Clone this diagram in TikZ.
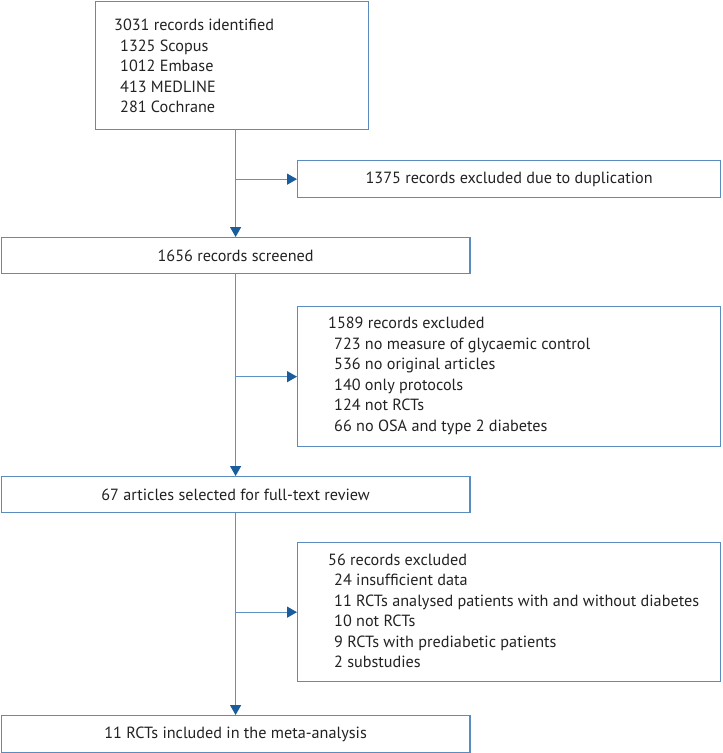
\documentclass[tikz,border=0pt]{standalone}
\usepackage{fontspec}
\setmainfont{PT Sans}
\usetikzlibrary{arrows.meta}
\definecolor{boxblue}{HTML}{5A8CC0}
\definecolor{lineblue}{HTML}{5F92C4}
\definecolor{tipblue}{HTML}{1B5C9C}
\definecolor{txtgray}{HTML}{222222}
\begin{document}
\begin{tikzpicture}[x=1pt,y=-1pt,
  box/.style={draw=boxblue, line width=1.3pt, anchor=north west, inner sep=0pt},
  txt/.style={font=\fontsize{16.2}{20.5}\selectfont, text=txtgray, align=left, inner sep=0pt},
  flow/.style={draw=lineblue, line width=1.3pt, -{Triangle[width=11pt,length=10pt,color=tipblue]}}
]
\useasboundingbox (0,0) rectangle (723,753);
% boxes
\node[box, minimum width=273pt, minimum height=128pt] (b1) at (95,0.7) {};
\node[txt, anchor=west] (t1) at (114,66) {3031 records identified\\
\hspace*{6pt}1325 Scopus\\
\hspace*{6pt}1012 Embase\\
\hspace*{6pt}413 MEDLINE\\
\hspace*{6pt}281 Cochrane};

\node[box, minimum width=423pt, minimum height=37pt] (b2) at (297,160) {};
\node[txt] (t2) at (b2.center) {1375 records excluded due to duplication};

\node[box, minimum width=468.5pt, minimum height=36pt] (b3) at (0.7,237) {};
\node[txt] (t3) at (b3.center) {1656 records screened};

\node[box, minimum width=423pt, minimum height=140pt] (b4) at (297,306) {};
\node[txt, anchor=west] (t4) at (328,376) {1589 records excluded\\
\hspace*{6pt}723 no measure of glycaemic control\\
\hspace*{6pt}536 no original articles\\
\hspace*{6pt}140 only protocols\\
\hspace*{6pt}124 not RCTs\\
\hspace*{6pt}66 no OSA and type 2 diabetes};

\node[box, minimum width=468.5pt, minimum height=36pt] (b5) at (0.7,476) {};
\node[txt] (t5) at (b5.center) {67 articles selected for full-text review};

\node[box, minimum width=423pt, minimum height=139pt] (b6) at (297,542) {};
\node[txt, anchor=west] (t6) at (328,611) {56 records excluded\\
\hspace*{6pt}24 insufficient data\\
\hspace*{6pt}11 RCTs analysed patients with and without diabetes\\
\hspace*{6pt}10 not RCTs\\
\hspace*{6pt}9 RCTs with prediabetic patients\\
\hspace*{6pt}2 substudies};

\node[box, minimum width=468.5pt, minimum height=37pt] (b7) at (0.7,715) {};
\node[txt] (t7) at (b7.center) {11 RCTs included in the meta-analysis};

% connectors
\coordinate (j1) at (b3.north |- b2.west);
\coordinate (j2) at (b3.north |- b4.west);
\coordinate (j3) at (b3.north |- b6.west);
\draw[flow] (b1.south -| b3.north) -- (b3.north);
\draw[flow] (b3.south) -- (b5.north);
\draw[flow] (b5.south) -- (b7.north);
\draw[flow] (j1) -- (b2.west);
\draw[flow] (j2) -- (b4.west);
\draw[flow] (j3) -- (b6.west);
\end{tikzpicture}
\end{document}
